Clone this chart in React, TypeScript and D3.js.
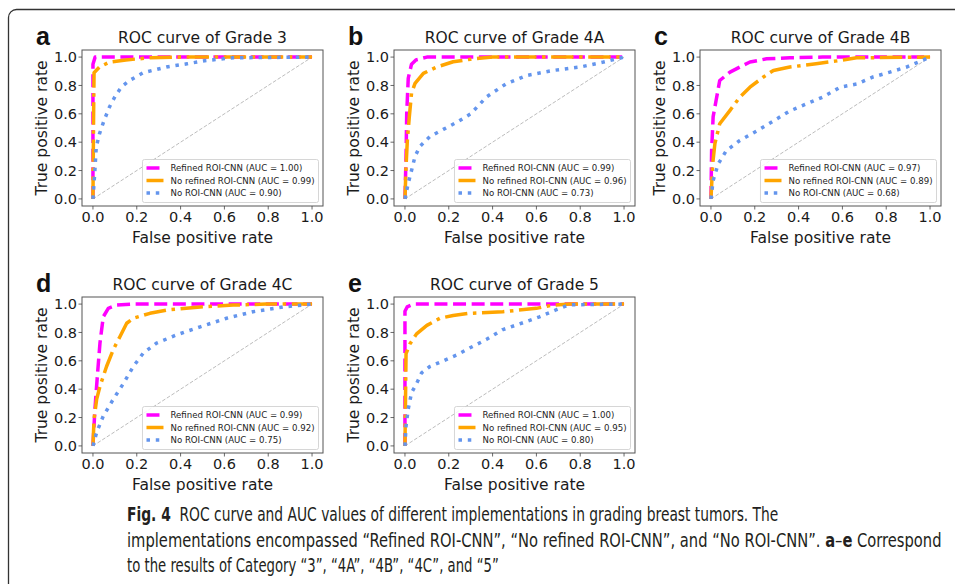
import React from "react";
import * as d3 from "d3";

const W = 955;
const H = 584;

// ---------- data ----------
const panelLetters = ["a", "b", "c", "d", "e"];
const panelTitles = [
  "ROC curve of Grade 3",
  "ROC curve of Grade 4A",
  "ROC curve of Grade 4B",
  "ROC curve of Grade 4C",
  "ROC curve of Grade 5",
];
const seriesNames = ["Refined ROI-CNN", "No refined ROI-CNN", "No ROI-CNN"];
const aucGrade3 = [1.0, 0.99, 0.9];
const aucGrade4A = [0.99, 0.96, 0.73];
const aucGrade4B = [0.97, 0.89, 0.68];
const aucGrade4C = [0.99, 0.92, 0.75];
const aucGrade5 = [1.0, 0.95, 0.8];
const axisTicks = [0, 0.2, 0.4, 0.6, 0.8, 1.0];
const xAxisLabel = "False positive rate";
const yAxisLabel = "True positive rate";

// ROC points [fpr, tpr]
const refinedG3 = [[0, 0], [0, 0.95], [0.01, 1.0], [1, 1]];
const noRefinedG3 = [[0, 0], [0.003, 0.6], [0.005, 0.89], [0.03, 0.93], [0.076, 0.965], [0.15, 0.98], [0.26, 0.995], [0.4, 1.0], [1, 1]];
const noRoiG3 = [[0, 0], [0.008, 0.18], [0.015, 0.365], [0.03, 0.46], [0.05, 0.55], [0.076, 0.65], [0.1, 0.72], [0.13, 0.79], [0.167, 0.835], [0.23, 0.89], [0.335, 0.93], [0.43, 0.953], [0.517, 0.976], [0.64, 0.995], [1, 1]];

const refinedG4A = [[0, 0], [0.005, 0.3], [0.008, 0.6], [0.015, 0.85], [0.03, 0.95], [0.05, 0.98], [0.1, 1.0], [1, 1]];
const noRefinedG4A = [[0, 0], [0.005, 0.23], [0.011, 0.415], [0.02, 0.58], [0.03, 0.745], [0.046, 0.815], [0.084, 0.885], [0.145, 0.93], [0.22, 0.967], [0.3, 0.985], [0.4, 1.0], [1, 1]];
const noRoiG4A = [[0, 0], [0.015, 0.11], [0.03, 0.2], [0.046, 0.3], [0.068, 0.37], [0.114, 0.44], [0.175, 0.49], [0.236, 0.54], [0.3, 0.6], [0.373, 0.72], [0.46, 0.81], [0.555, 0.87], [0.677, 0.906], [0.8, 0.93], [0.906, 0.965], [1, 1]];

const refinedG4B = [[0, 0], [0.003, 0.34], [0.01, 0.58], [0.023, 0.69], [0.04, 0.835], [0.087, 0.894], [0.132, 0.93], [0.178, 0.965], [0.254, 0.988], [0.36, 0.995], [0.51, 1.0], [1, 1]];
const noRefinedG4B = [[0, 0], [0.008, 0.247], [0.018, 0.39], [0.04, 0.53], [0.087, 0.624], [0.132, 0.718], [0.178, 0.788], [0.24, 0.86], [0.285, 0.906], [0.36, 0.93], [0.48, 0.953], [0.59, 0.976], [0.665, 0.995], [1, 1]];
const noRoiG4B = [[0, 0], [0.01, 0.13], [0.033, 0.247], [0.07, 0.34], [0.13, 0.41], [0.21, 0.48], [0.285, 0.55], [0.36, 0.62], [0.436, 0.67], [0.51, 0.718], [0.59, 0.788], [0.665, 0.81], [0.74, 0.86], [0.817, 0.894], [0.893, 0.93], [1, 1]];

const refinedG4C = [[0, 0], [0.009, 0.26], [0.02, 0.49], [0.032, 0.725], [0.047, 0.91], [0.07, 0.97], [0.108, 0.993], [0.184, 1.0], [1, 1]];
const noRefinedG4C = [[0, 0], [0.005, 0.19], [0.017, 0.33], [0.032, 0.42], [0.062, 0.56], [0.093, 0.68], [0.123, 0.77], [0.154, 0.865], [0.184, 0.9], [0.26, 0.935], [0.336, 0.958], [0.49, 0.98], [0.64, 0.993], [0.79, 1.0], [1, 1]];
const noRoiG4C = [[0, 0], [0.017, 0.096], [0.047, 0.21], [0.093, 0.33], [0.139, 0.44], [0.184, 0.56], [0.23, 0.655], [0.29, 0.725], [0.382, 0.783], [0.49, 0.84], [0.61, 0.9], [0.73, 0.946], [0.87, 0.98], [1, 1]];

const refinedG5 = [[0, 0], [0, 0.95], [0.01, 0.98], [0.04, 1.0], [1, 1]];
const noRefinedG5 = [[0, 0], [0.005, 0.65], [0.023, 0.72], [0.053, 0.79], [0.1, 0.85], [0.16, 0.9], [0.22, 0.92], [0.295, 0.935], [0.447, 0.946], [0.6, 0.97], [0.675, 0.993], [0.75, 1.0], [1, 1]];
const noRoiG5 = [[0, 0], [0.005, 0.14], [0.015, 0.26], [0.03, 0.375], [0.053, 0.44], [0.076, 0.515], [0.114, 0.56], [0.175, 0.6], [0.235, 0.64], [0.295, 0.69], [0.371, 0.75], [0.447, 0.82], [0.523, 0.86], [0.614, 0.91], [0.69, 0.96], [0.75, 0.995], [1, 1]];

const diagonal = [[0, 0], [1, 1]];

const captionLine1Bold = "Fig. 4";
const captionLine1 = "  ROC curve and AUC values of different implementations in grading breast tumors. The";
const captionLine2 = "implementations encompassed \u201cRefined ROI-CNN\u201d, \u201cNo refined ROI-CNN\u201d, and \u201cNo ROI-CNN\u201d. ";
const captionLine2Tail = " Correspond";
const captionLine3 = "to the results of Category \u201c3\u201d, \u201c4A\u201d, \u201c4B\u201d, \u201c4C\u201d, and \u201c5\u201d";

// ---------- styles / layout ----------
const seriesColors = ["#ff00ff", "#ffa500", "#6495ed"];
const seriesDash = ["13,5.6", "22.4,5.6,3.5,5.6", "3.5,5.8"];
const LW = 3.5;
const PW = 241;
const PH = 156;

const panels = [
  { left: 82, top: 50, curves: [refinedG3, noRefinedG3, noRoiG3], auc: aucGrade3 },
  { left: 394, top: 50, curves: [refinedG4A, noRefinedG4A, noRoiG4A], auc: aucGrade4A },
  { left: 700, top: 50, curves: [refinedG4B, noRefinedG4B, noRoiG4B], auc: aucGrade4B },
  { left: 82, top: 297, curves: [refinedG4C, noRefinedG4C, noRoiG4C], auc: aucGrade4C },
  { left: 394, top: 297, curves: [refinedG5, noRefinedG5, noRoiG5], auc: aucGrade5 },
];

const MPL = "'DejaVu Sans', sans-serif";
const LEG_FS = 8.6;

let ctx: CanvasRenderingContext2D | null = null;
function measure(text: string, font: string): number {
  if (!ctx) ctx = document.createElement("canvas").getContext("2d");
  if (!ctx) return text.length * 5;
  ctx.font = font;
  return ctx.measureText(text).width;
}

function Panel({ p, i }: { p: any; i: number }) {
  const x = d3.scaleLinear().domain([-0.05, 1.05]).range([p.left, p.left + PW]);
  const y = d3.scaleLinear().domain([-0.05, 1.05]).range([p.top + PH, p.top]);
  const line = d3
    .line<number[]>()
    .x((d) => x(d[0]))
    .y((d) => y(d[1]));
  const bottom = p.top + PH;
  const right = p.left + PW;
  const labels = seriesNames.map((n, k) => `${n} (AUC = ${p.auc[k].toFixed(2)})`);
  const maxW = d3.max(labels, (l) => measure(l, `${LEG_FS}px 'DejaVu Sans'`)) || 140;
  const legW = 4 + 17 + 7 + maxW + 4;
  const legH = 43;
  const legR = right - 4.5;
  const legL = legR - legW;
  const legB = bottom - 3.5;
  const legT = legB - legH;
  const clipId = `clip${i}`;
  return (
    <g>
      <defs>
        <clipPath id={clipId}>
          <rect x={p.left} y={p.top} width={PW} height={PH} />
        </clipPath>
      </defs>
      <rect x={p.left} y={p.top} width={PW} height={PH} fill="#fff" />
      <g clipPath={`url(#${clipId})`}>
        <path d={line(diagonal as any) || ""} fill="none" stroke="#b4b4b4" strokeWidth={0.9} strokeDasharray="3.7,1.8" />
        {p.curves.map((c: number[][], k: number) => (
          <path
            key={k}
            d={line(c as any) || ""}
            fill="none"
            stroke={seriesColors[k]}
            strokeWidth={LW}
            strokeDasharray={seriesDash[k]}
            strokeLinejoin="round"
            strokeLinecap="butt"
          />
        ))}
      </g>
      {/* legend */}
      <rect x={legL} y={legT} width={legW} height={legH} rx={2} fill="#fff" fillOpacity={0.85} stroke="#cccccc" strokeWidth={0.8} />
      {labels.map((l, k) => {
        const cy = legT + 8.5 + k * 12.5;
        return (
          <g key={k}>
            <line x1={legL + 4} x2={legL + 21} y1={cy} y2={cy} stroke={seriesColors[k]} strokeWidth={LW} strokeDasharray={seriesDash[k]} />
            <text x={legL + 28} y={cy + 3.2} fontSize={LEG_FS} fontFamily={MPL} fill="#222">
              {l}
            </text>
          </g>
        );
      })}
      {/* frame */}
      <rect x={p.left} y={p.top} width={PW} height={PH} fill="none" stroke="#555" strokeWidth={1} />
      {/* x ticks */}
      {axisTicks.map((t) => (
        <g key={"x" + t}>
          <line x1={x(t)} x2={x(t)} y1={bottom} y2={bottom + 3.5} stroke="#444" strokeWidth={0.8} />
          <text x={x(t)} y={bottom + 15.5} textAnchor="middle" fontSize={14.5} fontFamily={MPL} fill="#1a1a1a">
            {t.toFixed(1)}
          </text>
        </g>
      ))}
      {axisTicks.map((t) => (
        <g key={"y" + t}>
          <line x1={p.left - 3.5} x2={p.left} y1={y(t)} y2={y(t)} stroke="#444" strokeWidth={0.8} />
          <text x={p.left - 5} y={y(t) + 5.2} textAnchor="end" fontSize={14.5} fontFamily={MPL} fill="#1a1a1a">
            {t.toFixed(1)}
          </text>
        </g>
      ))}
      {/* axis labels */}
      <text x={(p.left + right) / 2} y={bottom + 37} textAnchor="middle" fontSize={15.5} fontFamily={MPL} fill="#1a1a1a">
        {xAxisLabel}
      </text>
      <text
        transform={`translate(${p.left - 35.5},${p.top + PH / 2}) rotate(-90)`}
        textAnchor="middle"
        fontSize={15.5}
        fontFamily={MPL}
        fill="#1a1a1a"
      >
        {yAxisLabel}
      </text>
      {/* title */}
      <text x={(p.left + right) / 2} y={p.top - 7.5} textAnchor="middle" fontSize={15.5} fontFamily={MPL} fill="#1a1a1a">
        {panelTitles[i]}
      </text>
      {/* panel letter */}
      <text x={p.left - 46} y={p.top - 5} fontSize={25} fontWeight="bold" fontFamily="'Liberation Sans', Arial, sans-serif" fill="#111">
        {panelLetters[i]}
      </text>
    </g>
  );
}

const CAP_FAMILY = "'Liberation Sans Narrow', 'DejaVu Sans Condensed', 'Liberation Sans', sans-serif";
const CAP_FS = 19;

function capWidth(parts: [string, boolean][]): number {
  return parts.reduce(
    (s, [t, b]) => s + measure(t, `${b ? "bold " : ""}${CAP_FS}px ${CAP_FAMILY}`),
    0
  );
}

function CaptionLine({ x, y, target, parts }: { x: number; y: number; target: number; parts: [string, boolean][] }) {
  const natural = capWidth(parts) || target;
  const k = target / natural;
  return (
    <g transform={`translate(${x},${y}) scale(${k},1)`}>
      <text x={0} y={0} fontFamily={CAP_FAMILY} fontSize={CAP_FS} fill="#231f20" style={{ whiteSpace: "pre" }}>
        {parts.map(([t, b], j) => (
          <tspan key={j} fontWeight={b ? "bold" : "normal"}>
            {t}
          </tspan>
        ))}
      </text>
    </g>
  );
}

export default function App() {
  const capX = 127;
  return (
    <svg width={W} height={H} style={{ position: "absolute", left: 0, top: 0, background: "#fff" }}>
      <rect x={0} y={0} width={W} height={H} fill="#fff" />
      <rect x={8.5} y={9.5} width={1000} height={700} rx={8} fill="none" stroke="#333" strokeWidth={1.3} />
      {panels.map((p, i) => (
        <Panel key={i} p={p} i={i} />
      ))}
      <CaptionLine x={capX} y={521} target={652} parts={[[captionLine1Bold, true], [captionLine1, false]]} />
      <CaptionLine
        x={capX}
        y={547}
        target={815}
        parts={[[captionLine2, false], ["a", true], ["\u2013", false], ["e", true], [captionLine2Tail, false]]}
      />
      <CaptionLine x={capX} y={572} target={372} parts={[[captionLine3, false]]} />
    </svg>
  );
}
